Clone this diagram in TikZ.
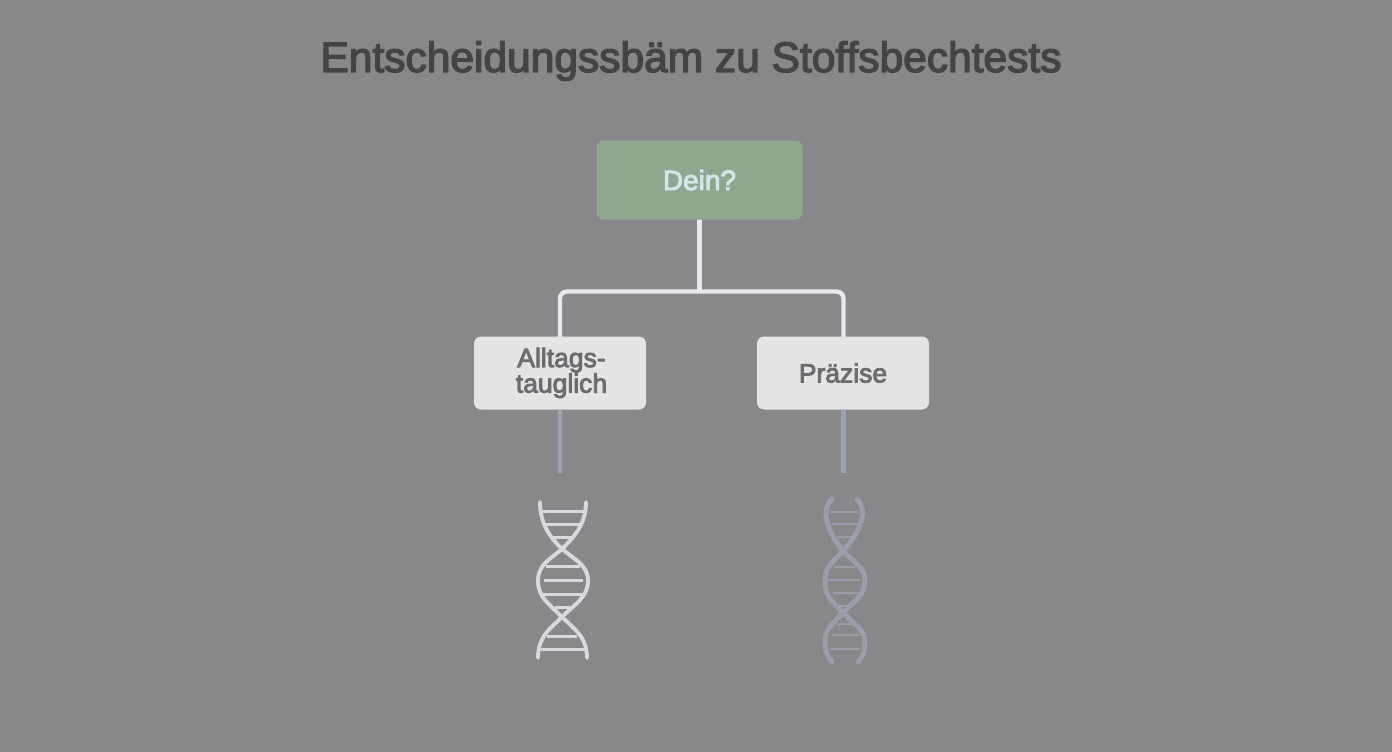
\documentclass[tikz,border=0pt]{standalone}
\usepackage{fontspec}
\setmainfont{Liberation Sans}
\newfontfamily\medfont[FakeBold=3.2]{Liberation Sans}
\usetikzlibrary{calc}
\definecolor{bgc}{HTML}{88888A}
\definecolor{titlec}{HTML}{444446}
\definecolor{greenc}{HTML}{8FA68F}
\definecolor{boxc}{HTML}{E4E4E4}
\definecolor{boxt}{HTML}{6C6C70}
\definecolor{deint}{HTML}{D5E4E6}
\definecolor{linew}{HTML}{E6EAF0}
\definecolor{lineb}{HTML}{9AA3B0}
\definecolor{dnaw}{HTML}{D8D9DC}
\definecolor{dnab}{HTML}{9A9EAA}
\tikzset{
  x=1pt,y=-1pt,
  box/.style={rounded corners=7pt,minimum height=73pt,minimum width=172pt,inner sep=0pt,fill=boxc,text=boxt,align=center,font=\medfont\fontsize{26.5}{25.5}\selectfont},
  rootbox/.style={box,minimum width=206pt,minimum height=79pt,fill=greenc,text=deint,font=\medfont\fontsize{28}{28}\selectfont},
  upperline/.style={draw=linew,line width=4.4pt},
  lowerline/.style={draw=lineb,line width=4.4pt},
  strandw/.style={draw=dnaw,line width=3.9pt,line cap=round},
  rungw/.style={draw=dnaw,line width=3pt},
  strandb/.style={draw=dnab,line width=5pt,line cap=round},
  rungb/.style={draw=dnab,line width=2.8pt},
}
\begin{document}
\begin{tikzpicture}
\useasboundingbox (0,0) rectangle (1392,752);
\fill[bgc] (0,0) rectangle (1392,752);
\node[text=titlec,font=\medfont\fontsize{42.5}{42.5}\selectfont,inner sep=0pt] (title) at (691,61) {Entscheidungssbäm zu Stoffsbechtests};
\coordinate (junction) at (699.5,291.5);
\coordinate (endl) at (560,473);
\coordinate (endr) at (843.5,473);
\draw[upperline] (699.5,219) -- (junction);
\draw[upperline,rounded corners=7pt] (560,338) |- (junction) -| (843.5,338);
\node[rootbox] (root) at (699.5,180) {Dein?};
\node[box] (alltag) at (560,373) {\hspace*{3pt}\raisebox{-1pt}{Alltags-}\\\hspace*{3pt}\raisebox{-1pt}{tauglich}};
\node[box] (praez) at (843,373) {Präzise};
\draw[lowerline] (alltag.south) -- (endl);
\draw[lowerline] (alltag.south -| endr) -- (endr);
% left helix
\foreach \y/\a/\b in {511/541/584,524/544/581,537/553/572,566/546/580,580/544/583,594/543/582,607/555/574,636/547/577,649/541/585}
  \draw[rungw] (\a,\y) -- (\b,\y);
\draw[strandw] (540,502) .. controls (540,525) and (551,538) .. (562,549)
  .. controls (575,560) and (588,565) .. (588,581)
  .. controls (588,597) and (575,604) .. (562,617)
  .. controls (551,628) and (538,636) .. (538,658);
\draw[strandw] (586,502) .. controls (586,525) and (573,538) .. (562,549)
  .. controls (549,560) and (538,565) .. (538,581)
  .. controls (538,597) and (549,604) .. (562,617)
  .. controls (573,628) and (587,636) .. (587,658);
% right helix
\foreach \y/\a/\b in {512/830/858,524/832/860,537/837/852,567/834/855,580/828/860,593/833/858,606/838/850,624/837/853,635/832/860,649/830/860}
  \draw[rungb] (\a,\y) -- (\b,\y);
\draw[strandb] (832,499) .. controls (822,508) and (824,528) .. (843,551)
  .. controls (856,564) and (865,568) .. (865,581)
  .. controls (865,594) and (856,600) .. (843,613)
  .. controls (830,625) and (825,632) .. (825,641)
  .. controls (825,650) and (827,657) .. (832,662);
\draw[strandb] (857,499) .. controls (867,508) and (864,528) .. (843,551)
  .. controls (830,564) and (825,568) .. (825,581)
  .. controls (825,594) and (830,600) .. (843,613)
  .. controls (856,625) and (865,632) .. (865,641)
  .. controls (865,650) and (863,657) .. (858,662);
\end{tikzpicture}
\end{document}
